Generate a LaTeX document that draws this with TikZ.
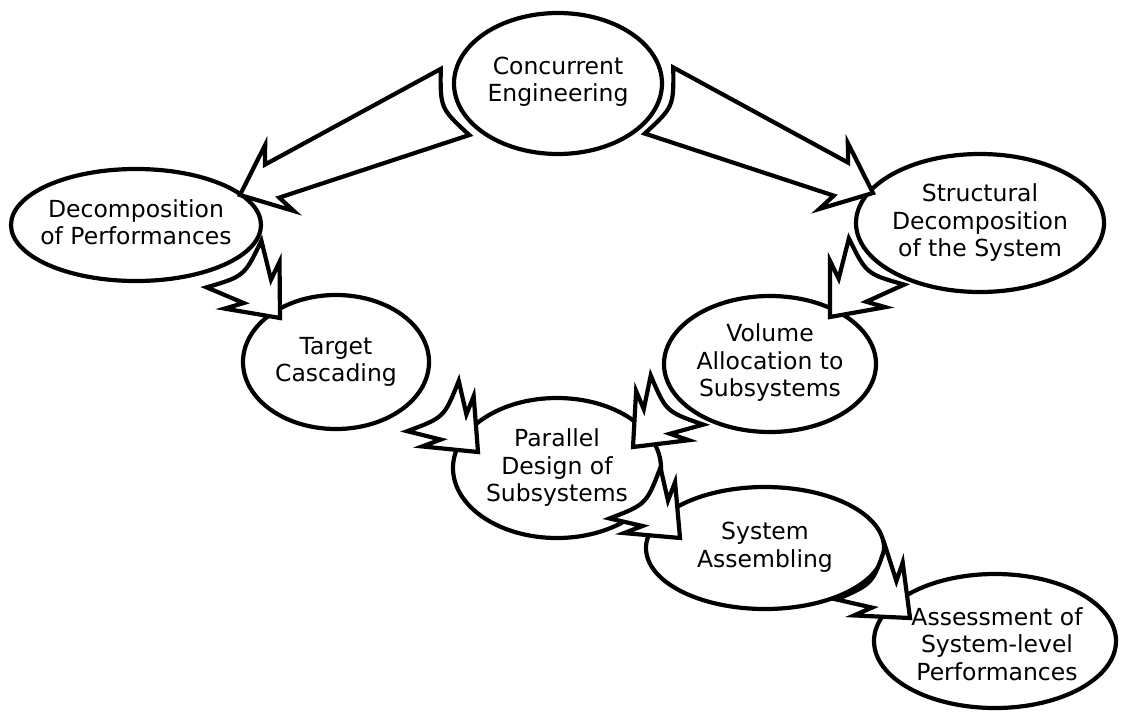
\documentclass[tikz,border=0pt]{standalone}
\usepackage{fontspec}
\setmainfont{DejaVu Sans}
\usetikzlibrary{shapes.geometric,calc}
\tikzset{
  ell/.style={ellipse, draw=black, line width=4.2pt, fill=white, inner sep=0pt},
  lbl/.style={align=center, font=\fontsize{23.5}{27.5}\selectfont, inner sep=0pt},
  zz/.style={draw=black, fill=white, line width=4.2pt, line join=miter, miter limit=6},
}
\newcommand{\zzarrow}[2]{%
  \draw[zz] ($(#1)!36pt!-90:(#2)$) .. controls ($(#1)!16pt!(#2)$) .. ($(#1)!36pt!90:(#2)$)
    -- ($(#2)!35pt!(#1)!18pt!-90:(#1)$)
    -- ($(#2)!43pt!(#1)!36pt!-90:(#1)$)
    -- (#2)
    -- ($(#2)!43pt!(#1)!36pt!90:(#1)$)
    -- ($(#2)!35pt!(#1)!18pt!90:(#1)$)
    -- cycle;
}
\begin{document}
\begin{tikzpicture}[x=1pt,y=-1pt]
\useasboundingbox (0,0) rectangle (1121,712);
% ellipses
\node[ell, minimum width=208pt, minimum height=141pt] (ce) at (558,83.5) {};
\node[ell, minimum width=250pt, minimum height=112pt] (dop) at (136,225) {};
\node[ell, minimum width=248pt, minimum height=138pt] (sd) at (980,223) {};
\node[ell, minimum width=186pt, minimum height=134pt] (tc) at (336,362) {};
\node[ell, minimum width=212pt, minimum height=136pt] (va) at (770,364) {};
\node[ell, minimum width=208pt, minimum height=140pt] (pd) at (557,468) {};
\node[ell, minimum width=238pt, minimum height=122pt] (sa) at (765,548) {};
\node[ell, minimum width=242pt, minimum height=134pt] (as) at (995,641) {};
% labels
\node[lbl] (cet) at ($(ce.center)+(0,-2)$) {Concurrent\\Engineering};
\node[lbl] (dopt) at ($(dop.center)+(0,-3)$) {Decomposition\\of Performances};
\node[lbl] (sdt) at (sd.center) {Structural\\Decomposition\\of the System};
\node[lbl] (tct) at (tc.center) {Target\\Cascading};
\node[lbl] (vat) at ($(va.center)+(0,-1)$) {Volume\\Allocation to\\Subsystems};
\node[lbl] (pdt) at (pd.center) {Parallel\\Design of\\Subsystems};
\node[lbl] (sat) at ($(sa.center)+(0,-1)$) {System\\Assembling};
\node[lbl] (ast) at ($(as.center)+(2,3)$) {Assessment of\\System-level\\Performances};
% arrow ends
\coordinate (a1s) at ($(ce.center)+(-103,18.5)$);
\coordinate (a1e) at ($(dop.center)+(104,-30)$);
\coordinate (a2s) at ($(ce.center)+(101,17)$);
\coordinate (a2e) at ($(sd.center)+(-107,-30)$);
\coordinate (a3s) at ($(dop.center)+(98,39)$);
\coordinate (a3e) at ($(tc.center)+(-56,-44)$);
\coordinate (a4s) at ($(sd.center)+(-103.5,38.5)$);
\coordinate (a4e) at ($(va.center)+(60,-47)$);
\coordinate (a5s) at ($(tc.center)+(97,44)$);
\coordinate (a5e) at ($(pd.center)+(-79,-16)$);
\coordinate (a6s) at ($(va.center)+(-93,36)$);
\coordinate (a6e) at ($(pd.center)+(76,-21)$);
\coordinate (a7s) at ($(pd.center)+(78,25)$);
\coordinate (a7e) at ($(sa.center)+(-85,-10)$);
\coordinate (a8s) at ($(sa.center)+(96,25)$);
\coordinate (a8e) at ($(as.center)+(-85,-23)$);
% arrows
\zzarrow{a1s}{a1e}
\zzarrow{a2s}{a2e}
\zzarrow{a3s}{a3e}
\zzarrow{a4s}{a4e}
\zzarrow{a5s}{a5e}
\zzarrow{a6s}{a6e}
\zzarrow{a7s}{a7e}
\zzarrow{a8s}{a8e}
\end{tikzpicture}
\end{document}
